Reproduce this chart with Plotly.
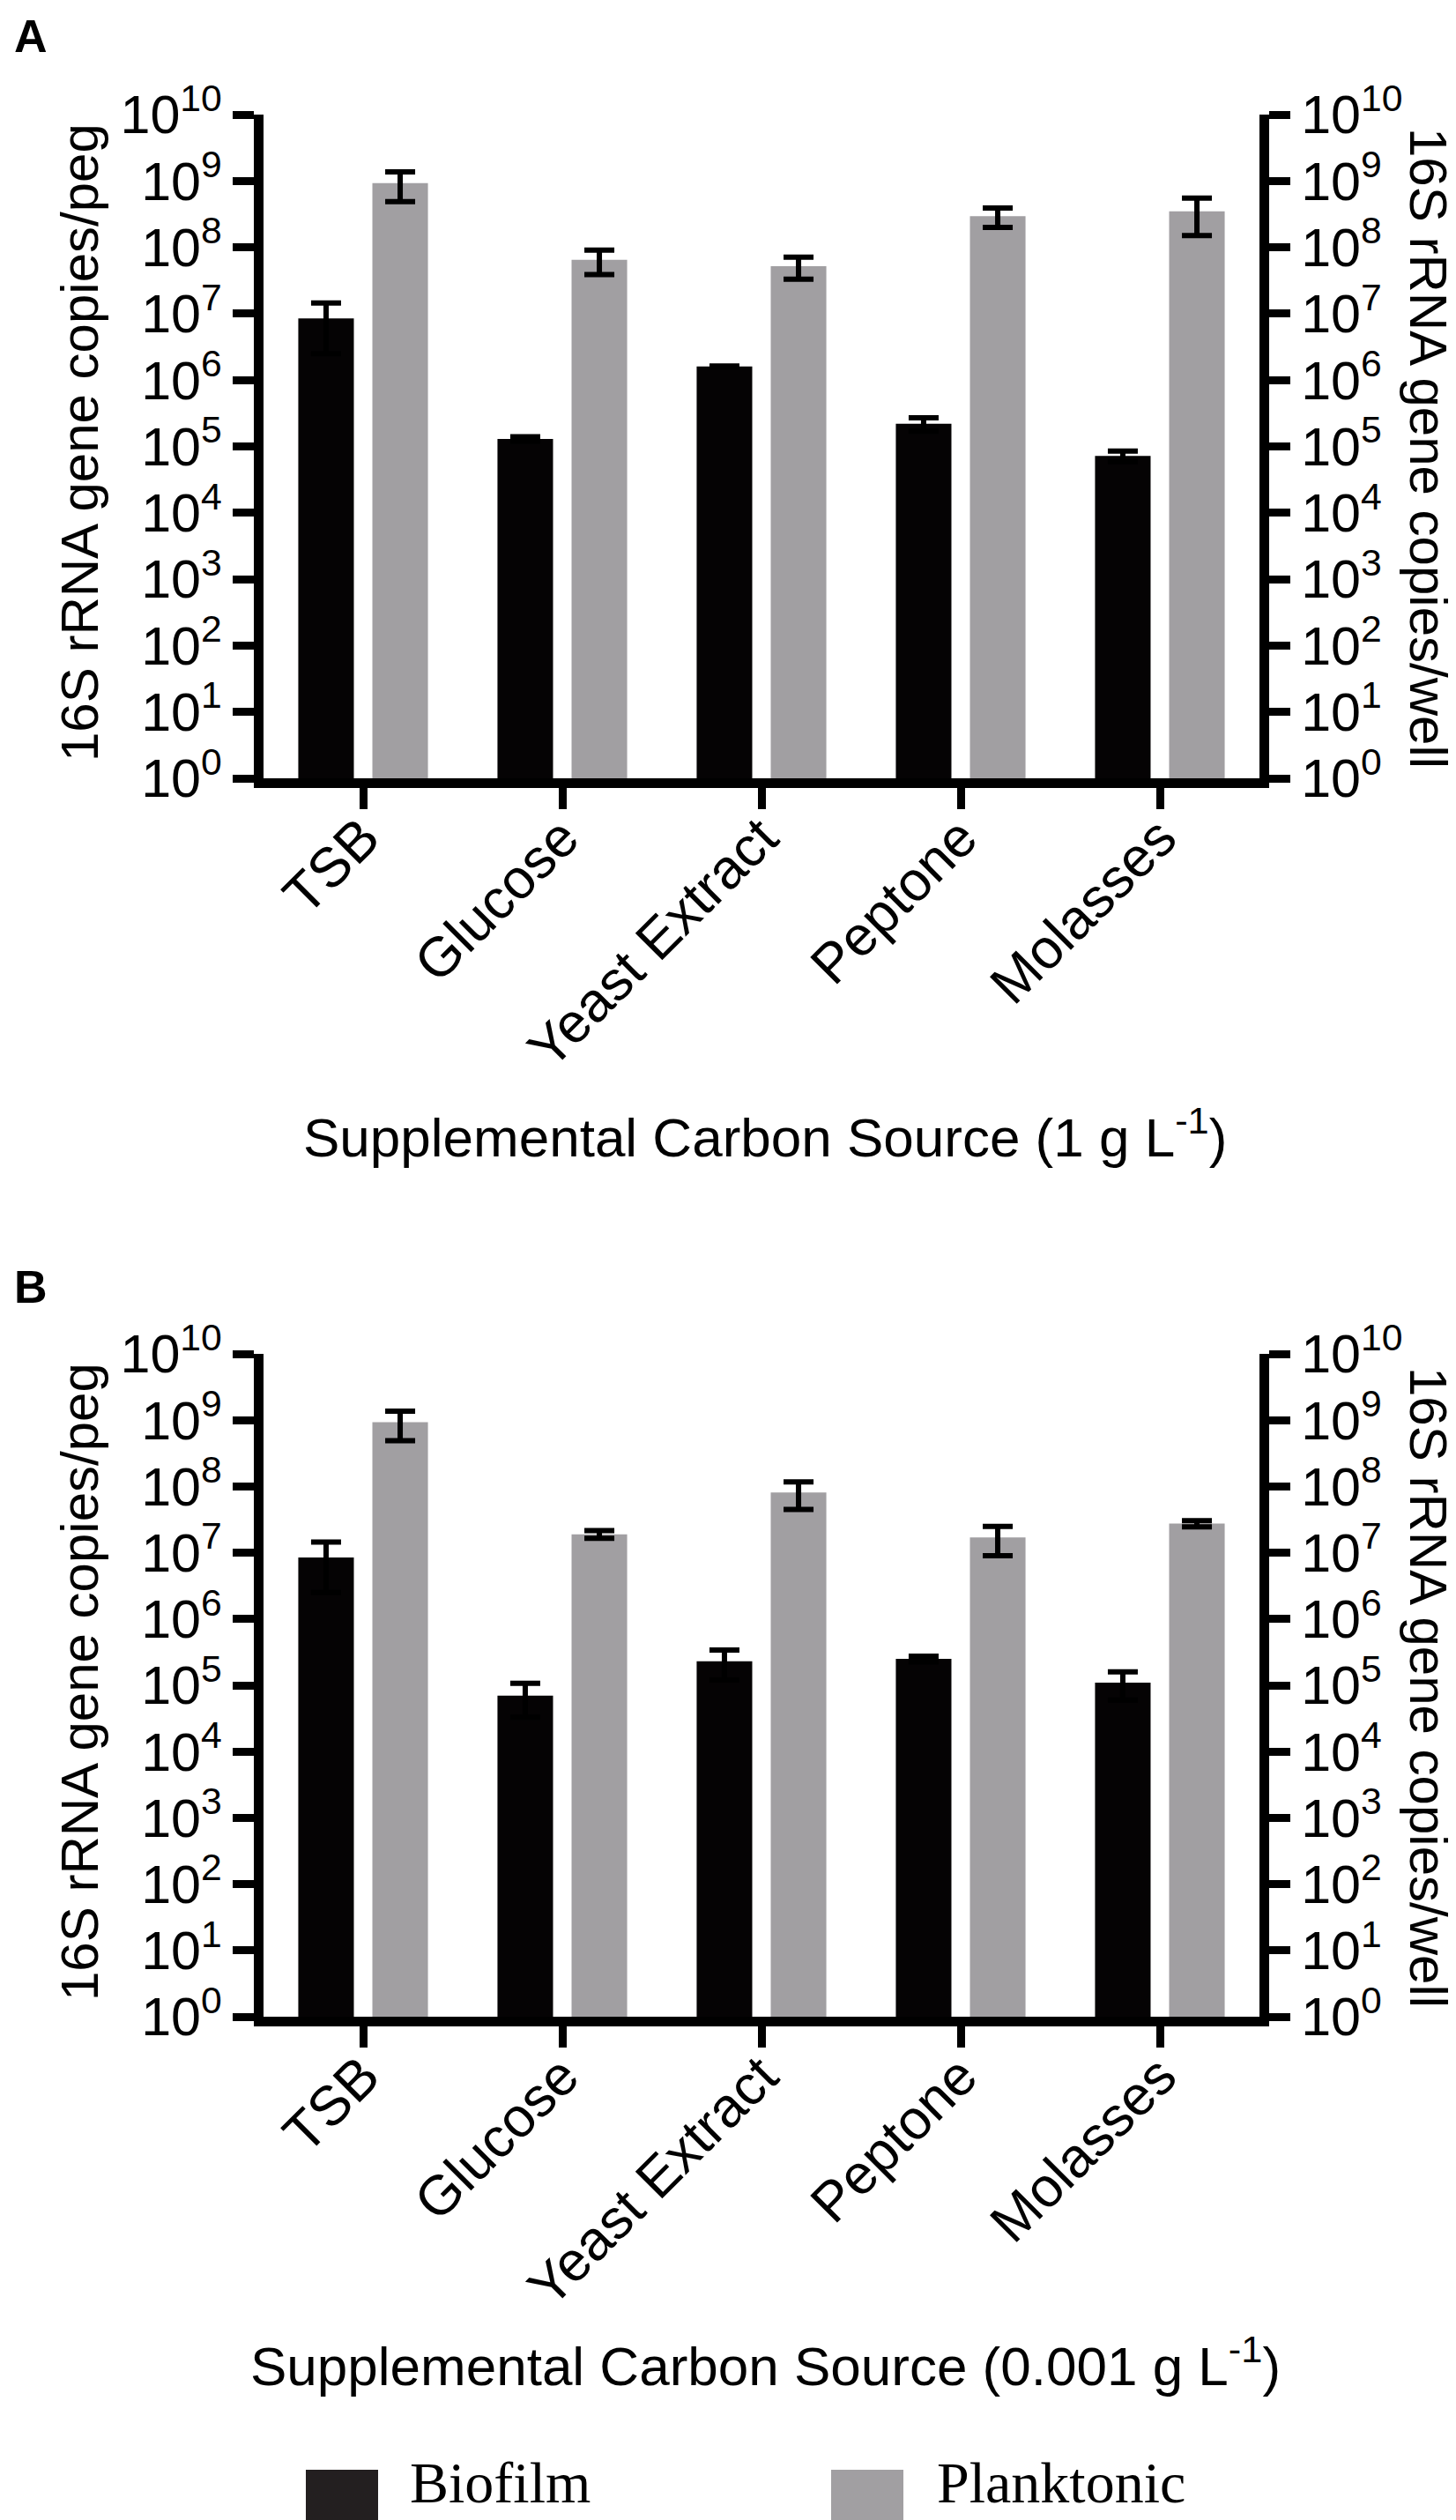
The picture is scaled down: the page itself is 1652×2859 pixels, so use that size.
import plotly.graph_objects as go

# Carbon sources on the x axis
categories = ["TSB", "Glucose", "Yeast Extract", "Peptone", "Molasses"]

# Panel A (1 g/L): mean 16S rRNA gene copies and SD
biofilm_a = [8.5e6, 1.3e5, 1.6e6, 2.2e5, 7.2e4]
biofilm_a_sd = [6.0e6, 1.0e4, 3.0e4, 5.0e4, 1.3e4]
plank_a = [9.3e8, 6.5e7, 5.2e7, 2.95e8, 3.5e8]
plank_a_sd = [4.4e8, 2.6e7, 1.9e7, 9.5e7, 2.0e8]

# Panel B (0.001 g/L)
biofilm_b = [8.5e6, 7.0e4, 2.3e5, 2.5e5, 1.1e5]
biofilm_b_sd = [6.0e6, 3.7e4, 1.1e5, 2.5e4, 5.0e4]
plank_b = [9.3e8, 1.9e7, 8.1e7, 1.7e7, 2.75e7]
plank_b_sd = [4.4e8, 2.5e6, 3.6e7, 8.0e6, 3.0e6]

decades = list(range(0, 11))
tick_vals = [10 ** k for k in decades]
tick_text = [f"10<sup>{k}</sup>" for k in decades]

BLACK = "#050304"
GREY = "#a19fa2"
SANS = "Liberation Sans, Arial, sans-serif"

W, H = 1652, 2859


def px(x):
    return x / W


def py(y):
    return (H - y) / H


fig = go.Figure()

panels = [
    ("x", "y", "y3", biofilm_a, biofilm_a_sd, plank_a, plank_a_sd),
    ("x2", "y2", "y4", biofilm_b, biofilm_b_sd, plank_b, plank_b_sd),
]
for xa, ya, ya_right, bio, bio_sd, pl, pl_sd in panels:
    fig.add_trace(go.Bar(
        x=categories, y=bio, xaxis=xa, yaxis=ya, name="Biofilm",
        marker=dict(color=BLACK, line=dict(width=0)),
        error_y=dict(type="data", array=bio_sd, color="black", thickness=6, width=17),
        showlegend=False,
    ))
    fig.add_trace(go.Bar(
        x=categories, y=pl, xaxis=xa, yaxis=ya, name="Planktonic",
        marker=dict(color=GREY, line=dict(width=0)),
        error_y=dict(type="data", array=pl_sd, color="black", thickness=6, width=17),
        showlegend=False,
    ))
    # invisible copy so the right-hand (per well) axis gets drawn
    fig.add_trace(go.Scatter(
        x=categories, y=pl, xaxis=xa, yaxis=ya_right, mode="markers",
        marker=dict(opacity=0), hoverinfo="skip", showlegend=False,
    ))

x_dom = [px(291), px(1421)]
y_dom_a = [py(875), py(122)]
y_dom_b = [py(2280), py(1528)]

xaxis_style = dict(
    domain=x_dom, showline=True, linewidth=11, linecolor="black",
    ticks="outside", ticklen=24, tickwidth=9, tickcolor="black",
    tickangle=-45, tickfont=dict(size=63, color="black", family=SANS),
    ticklabelstandoff=-30, automargin=False,
    showgrid=False, zeroline=False,
)
yaxis_style = dict(
    type="log", range=[0, 10], tickvals=tick_vals, ticktext=tick_text,
    showline=True, linewidth=11, linecolor="black",
    ticks="outside", ticklen=24, tickwidth=9, tickcolor="black",
    tickfont=dict(size=61, color="black", family=SANS),
    automargin=False, showgrid=False, zeroline=False,
)

fig.update_layout(
    template="none",
    width=W, height=H,
    margin=dict(l=0, r=0, t=0, b=0, pad=0, autoexpand=False),
    paper_bgcolor="white", plot_bgcolor="white",
    font=dict(family=SANS, color="black"),
    showlegend=False,
    barmode="group", bargap=0.256, bargroupgap=0.25,
    xaxis=dict(xaxis_style, anchor="y"),
    xaxis2=dict(xaxis_style, anchor="y2"),
    yaxis=dict(yaxis_style, domain=y_dom_a, anchor="x", side="left"),
    yaxis2=dict(yaxis_style, domain=y_dom_b, anchor="x2", side="left"),
    yaxis3=dict(yaxis_style, overlaying="y", anchor="x", side="right"),
    yaxis4=dict(yaxis_style, overlaying="y2", anchor="x2", side="right"),
)

annotations = []
title_font = dict(size=60, color="black", family=SANS)
for yc in [494, 1900]:
    annotations.append(dict(
        x=px(82), y=py(yc), xref="paper", yref="paper",
        text="16S rRNA gene copies/peg", textangle=-90, showarrow=False,
        font=title_font, xanchor="center", yanchor="middle",
    ))
    annotations.append(dict(
        x=px(1613), y=py(yc + 6), xref="paper", yref="paper",
        text="16S rRNA gene copies/well", textangle=90, showarrow=False,
        font=title_font, xanchor="center", yanchor="middle",
    ))

annotations.append(dict(
    x=px(860), y=py(1278), xref="paper", yref="paper",
    text="Supplemental Carbon Source (1 g L<sup>-1</sup>)", showarrow=False,
    font=dict(size=62, color="black", family=SANS), xanchor="center", yanchor="middle",
))
annotations.append(dict(
    x=px(860), y=py(2672), xref="paper", yref="paper",
    text="Supplemental Carbon Source (0.001 g L<sup>-1</sup>)", showarrow=False,
    font=dict(size=62, color="black", family=SANS), xanchor="center", yanchor="middle",
))

# panel letters
for yc, letter in [(33, "A"), (1452, "B")]:
    annotations.append(dict(
        x=px(6), y=py(yc), xref="paper", yref="paper",
        text=f"<b>{letter}</b>", showarrow=False,
        font=dict(size=52, color="black", family=SANS), xanchor="left", yanchor="middle",
    ))

# legend (drawn by hand so the swatches are large like the original)
legend_items = [("Biofilm", "#231f20", 339, 455), ("Planktonic", GREY, 935, 1053)]
shapes = []
for label, color, sx, tx in legend_items:
    shapes.append(dict(
        type="rect", xref="paper", yref="paper",
        x0=px(sx), x1=px(sx + 82), y0=py(2876), y1=py(2794),
        fillcolor=color, line=dict(width=0),
    ))
    annotations.append(dict(
        x=px(tx), y=py(2808), xref="paper", yref="paper",
        text=label, showarrow=False,
        font=dict(size=66, color="black", family="Liberation Serif, Times New Roman, serif"),
        xanchor="left", yanchor="middle",
    ))

fig.update_layout(annotations=annotations, shapes=shapes)

fig.write_html("out.html")
